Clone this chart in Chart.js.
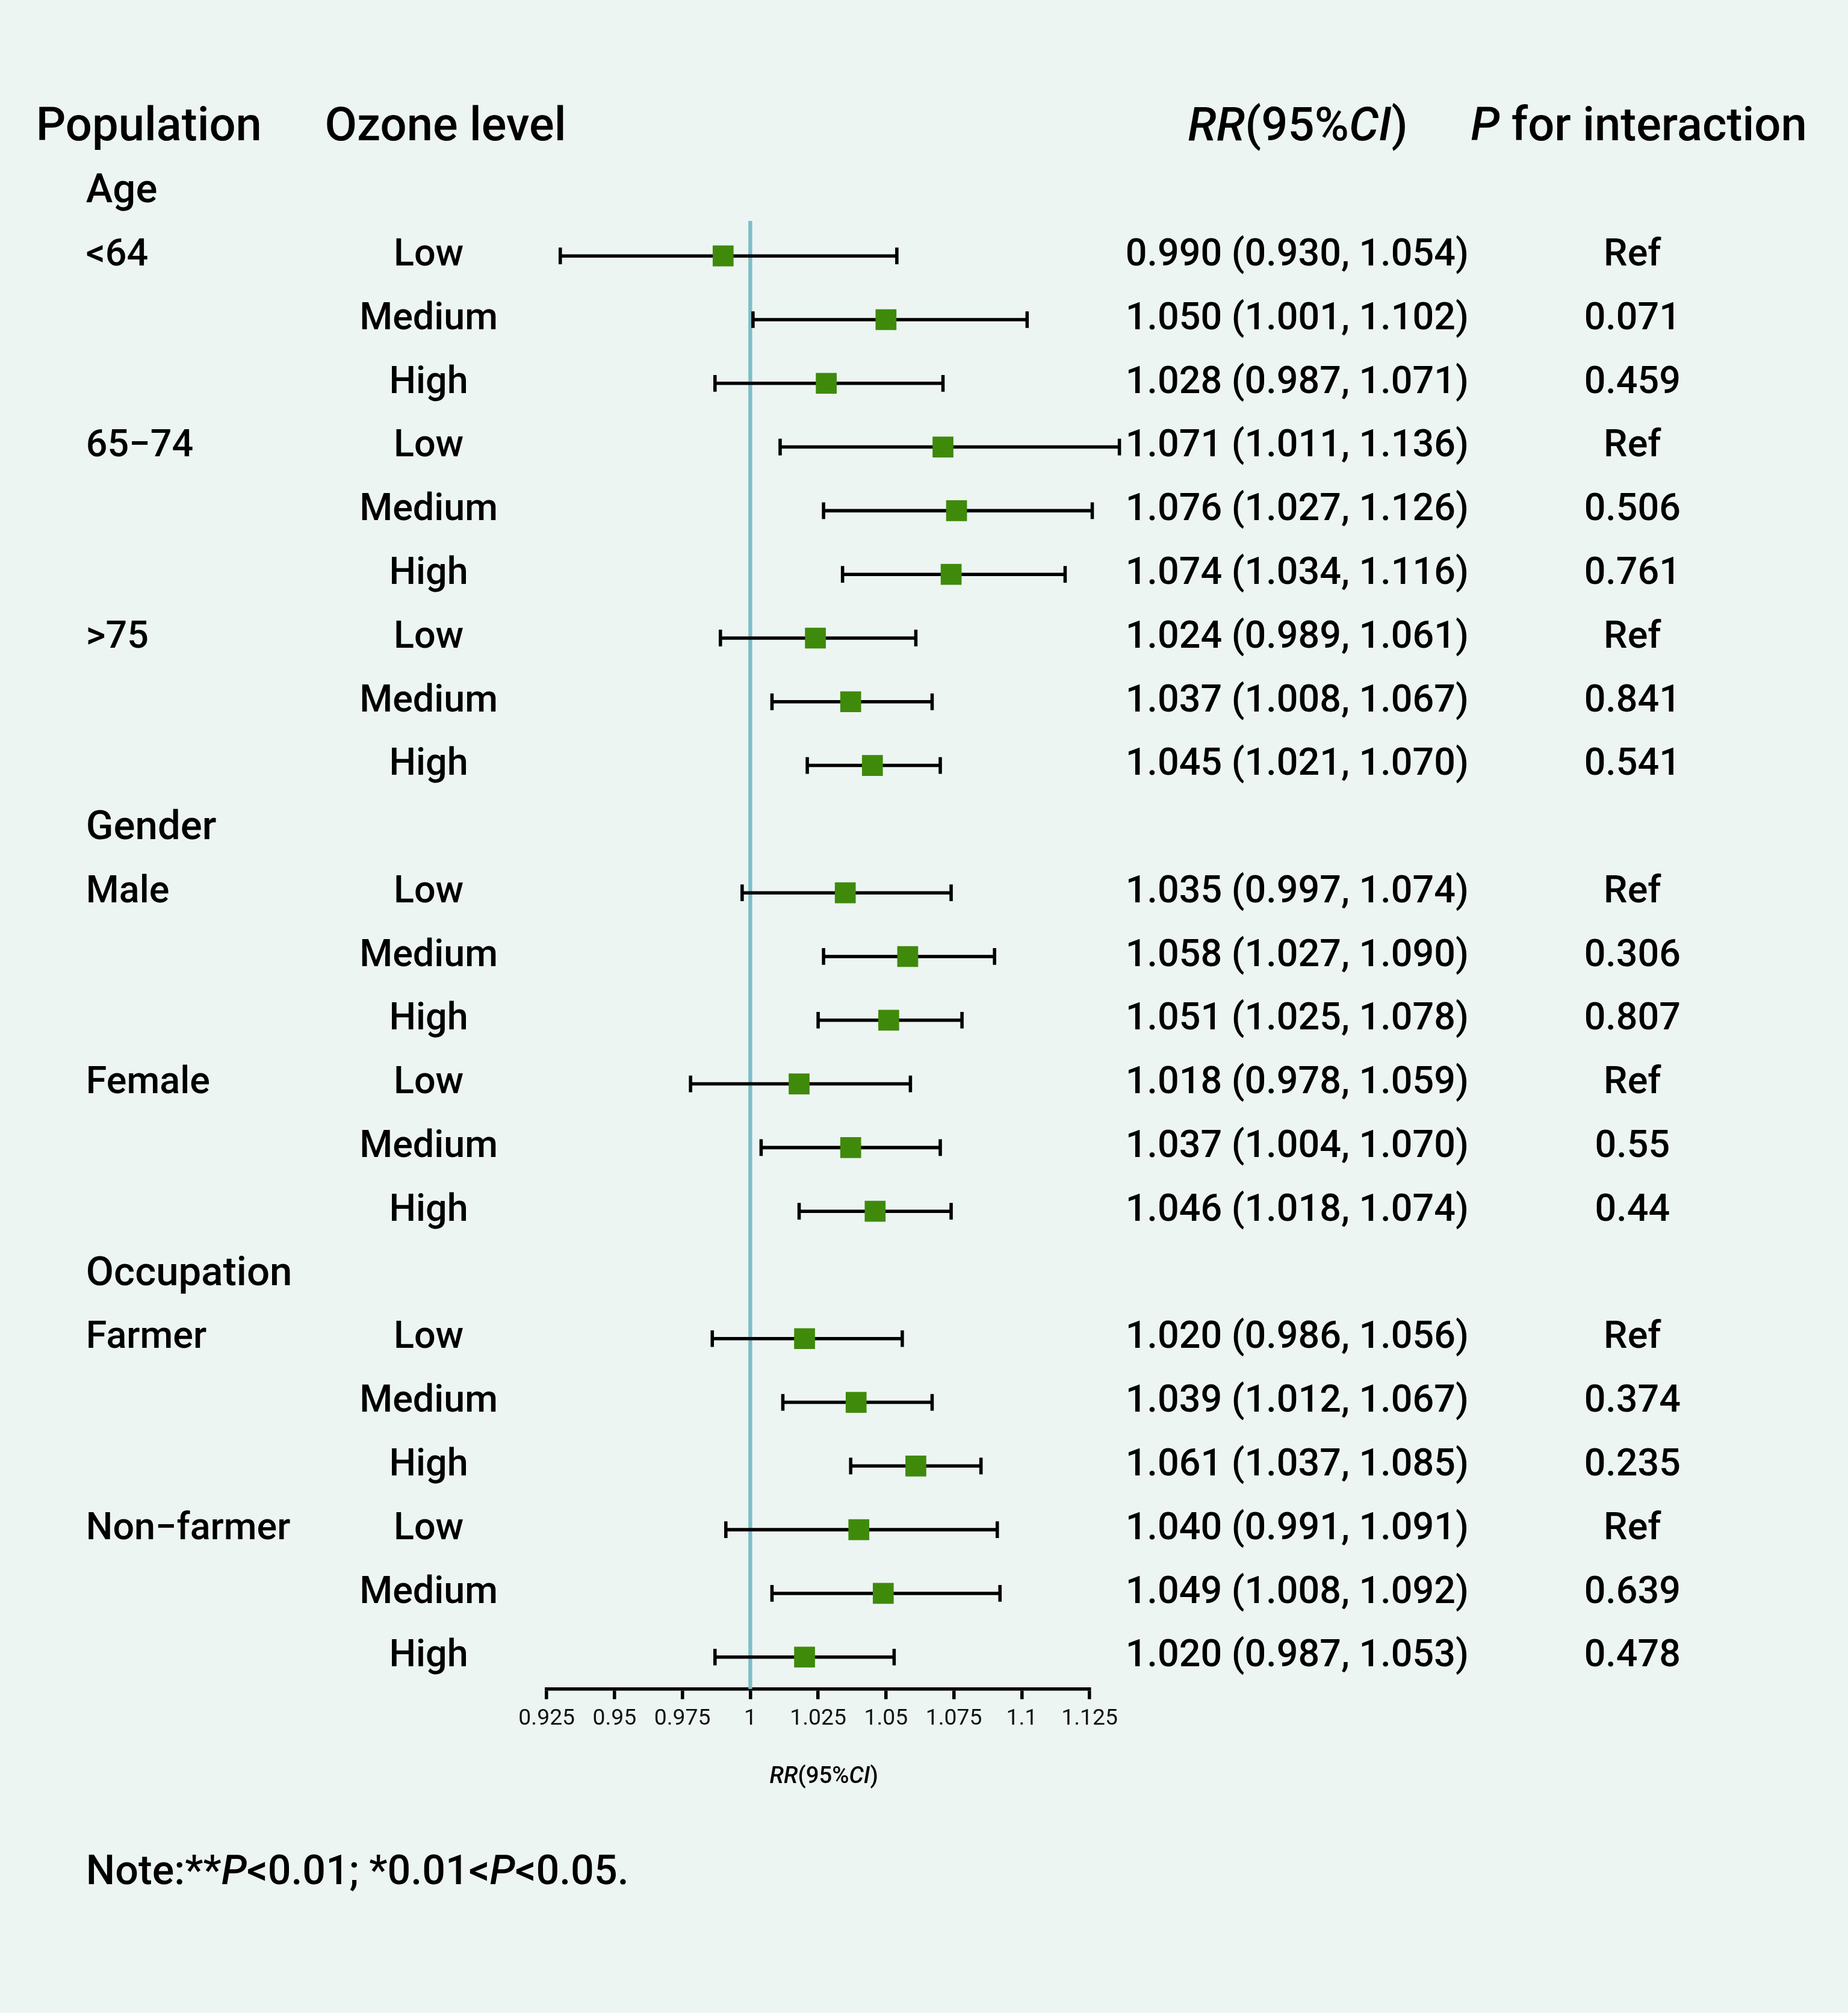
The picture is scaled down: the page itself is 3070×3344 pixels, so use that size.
<!DOCTYPE html>
<html><head><meta charset="utf-8">
<script src="https://cdn.jsdelivr.net/npm/chart.js@4/dist/chart.umd.min.js"></script>
<style>html,body{margin:0;padding:0;background:#edf5f3;}canvas{display:block;}</style>
</head><body>
<canvas id="c" width="3070" height="3344" style="width:3070px;height:3344px"></canvas>
<script>
const groupHeaders = ["Age", "Gender", "Occupation"];
const groupHeaderRows = [0, 10, 17];
const populations = ["<64", "", "", "65\u221274", "", "", ">75", "", "", "Male", "", "", "Female", "", "", "Farmer", "", "", "Non\u2212farmer", "", ""];
const levels = ["Low","Medium","High","Low","Medium","High","Low","Medium","High","Low","Medium","High","Low","Medium","High","Low","Medium","High","Low","Medium","High"];
const rr = [0.990,1.050,1.028,1.071,1.076,1.074,1.024,1.037,1.045,1.035,1.058,1.051,1.018,1.037,1.046,1.020,1.039,1.061,1.040,1.049,1.020];
const lower = [0.930,1.001,0.987,1.011,1.027,1.034,0.989,1.008,1.021,0.997,1.027,1.025,0.978,1.004,1.018,0.986,1.012,1.037,0.991,1.008,0.987];
const upper = [1.054,1.102,1.071,1.136,1.126,1.116,1.061,1.067,1.070,1.074,1.090,1.078,1.059,1.070,1.074,1.056,1.067,1.085,1.091,1.092,1.053];
const pInter = ["Ref","0.071","0.459","Ref","0.506","0.761","Ref","0.841","0.541","Ref","0.306","0.807","Ref","0.55","0.44","Ref","0.374","0.235","Ref","0.639","0.478"];
const xTicks = [0.925,0.95,0.975,1,1.025,1.05,1.075,1.1,1.125];

const rowIdx = [];
{ for (let g = 0; g < 3; g++) { const r = groupHeaderRows[g] + 1; const n = g === 0 ? 9 : 6; for (let k = 0; k < n; k++) rowIdx.push(r + k); } }
const fmt = v => v.toFixed(3);
const S = 3070/1440;
const F = "Roboto, 'DejaVu Sans', sans-serif";

function drawSegs(ctx, segs, x, y, size, align, weight) {
  const w0 = weight || "normal";
  let w = 0;
  segs.forEach(s => { ctx.font = (s[1] ? "italic " : "") + w0 + " " + size + "px " + F; w += ctx.measureText(s[0]).width; });
  let cx = align === "right" ? x - w : align === "center" ? x - w/2 : x;
  ctx.textAlign = "left";
  segs.forEach(s => { ctx.font = (s[1] ? "italic " : "") + w0 + " " + size + "px " + F; ctx.fillText(s[0], cx, y); cx += ctx.measureText(s[0]).width; });
}

const plugin = {
  id: "forest",
  beforeDatasetsDraw(chart) {
    const ctx = chart.ctx, xs = chart.scales.x, ys = chart.scales.y;
    ctx.save();
    ctx.strokeStyle = "#7dbec8"; ctx.lineWidth = 3*S;
    ctx.beginPath(); ctx.moveTo(xs.getPixelForValue(1), ys.getPixelForValue(0.45)); ctx.lineTo(xs.getPixelForValue(1), chart.chartArea.bottom); ctx.stroke();
    ctx.strokeStyle = "#000"; ctx.lineWidth = 2.6*S;
    rowIdx.forEach((r, i) => {
      const y = ys.getPixelForValue(r), x1 = xs.getPixelForValue(lower[i]), x2 = xs.getPixelForValue(upper[i]), h = 6.5*S;
      ctx.beginPath(); ctx.moveTo(x1, y); ctx.lineTo(x2, y);
      ctx.moveTo(x1, y-h); ctx.lineTo(x1, y+h); ctx.moveTo(x2, y-h); ctx.lineTo(x2, y+h); ctx.stroke();
    });
    ctx.restore();
  },
  afterDraw(chart) {
    const ctx = chart.ctx, ys = chart.scales.y;
    ctx.save();
    ctx.fillStyle = "#000"; ctx.textBaseline = "middle";
    const hy = ys.getPixelForValue(-1);
    const hs = 36.5*S;
    drawSegs(ctx, [["Population",0]], 28*S, hy, hs, "left", "500");
    drawSegs(ctx, [["Ozone level",0]], 253*S, hy, hs, "left", "500");
    drawSegs(ctx, [["RR",1],["(95%",0],["CI",1],[")",0]], 1097*S, hy, hs, "right", "500");
    drawSegs(ctx, [["P",1],[" for interaction",0]], 1146*S, hy, hs, "left", "500");
    const rs = 29.5*S;
    groupHeaders.forEach((g, k) => {
      ctx.font = "500 " + (31.5*S) + "px " + F; ctx.textAlign = "left";
      ctx.fillText(g, 67*S, ys.getPixelForValue(groupHeaderRows[k]));
    });
    ctx.font = "500 " + rs + "px " + F;
    rowIdx.forEach((r, i) => {
      const y = ys.getPixelForValue(r);
      ctx.textAlign = "left";
      if (populations[i]) ctx.fillText(populations[i], 67*S, y);
      ctx.textAlign = "center"; ctx.fillText(levels[i], 334*S, y);
      ctx.textAlign = "left"; ctx.fillText(fmt(rr[i]) + " (" + fmt(lower[i]) + ", " + fmt(upper[i]) + ")", 877*S, y);
      ctx.textAlign = "center"; ctx.fillText(pInter[i], 1272*S, y);
    });
    drawSegs(ctx, [["RR",1],["(95%",0],["CI",1],[")",0]], 642*S, 1385*S, 18*S, "center", "500");
    drawSegs(ctx, [["Note:**",0],["P",1],["<0.01; *0.01<",0],["P",1],["<0.05.",0]], 67*S, 1460*S, 32*S, "left", "500");
    ctx.restore();
  }
};

new Chart(document.getElementById("c"), {
  type: "scatter",
  data: { datasets: [{
    data: rr.map((v, i) => ({x: v, y: rowIdx[i]})),
    pointStyle: "rect", pointRadius: 11.5*S, pointHoverRadius: 11.5*S,
    backgroundColor: "#3f8a0b", borderColor: "#3f8a0b", borderWidth: 0
  }]},
  options: {
    responsive: false, devicePixelRatio: 1, animation: false,
    events: [],
    layout: { padding: { left: 426*S, right: 3070 - 849*S, top: 125*S, bottom: 3344 - 1355*S } },
    plugins: { legend: { display: false }, tooltip: { enabled: false } },
    scales: {
      x: {
        type: "linear", min: 0.925, max: 1.125,
        afterBuildTicks: ax => { ax.ticks = xTicks.map(v => ({value: v})); },
        ticks: { color: "#111", font: { size: 17.5*S, family: F }, padding: 5*S, maxRotation: 0,
          callback: v => String(+v.toFixed(3)) },
        grid: { drawOnChartArea: false, drawTicks: true, tickLength: 8*S, color: "#000", lineWidth: 2.6*S },
        border: { display: true, color: "#000", width: 2.6*S }
      },
      y: { type: "linear", min: -0.5, max: 23.5, reverse: true, display: false }
    }
  },
  plugins: [plugin]
});
</script>
</body></html>
